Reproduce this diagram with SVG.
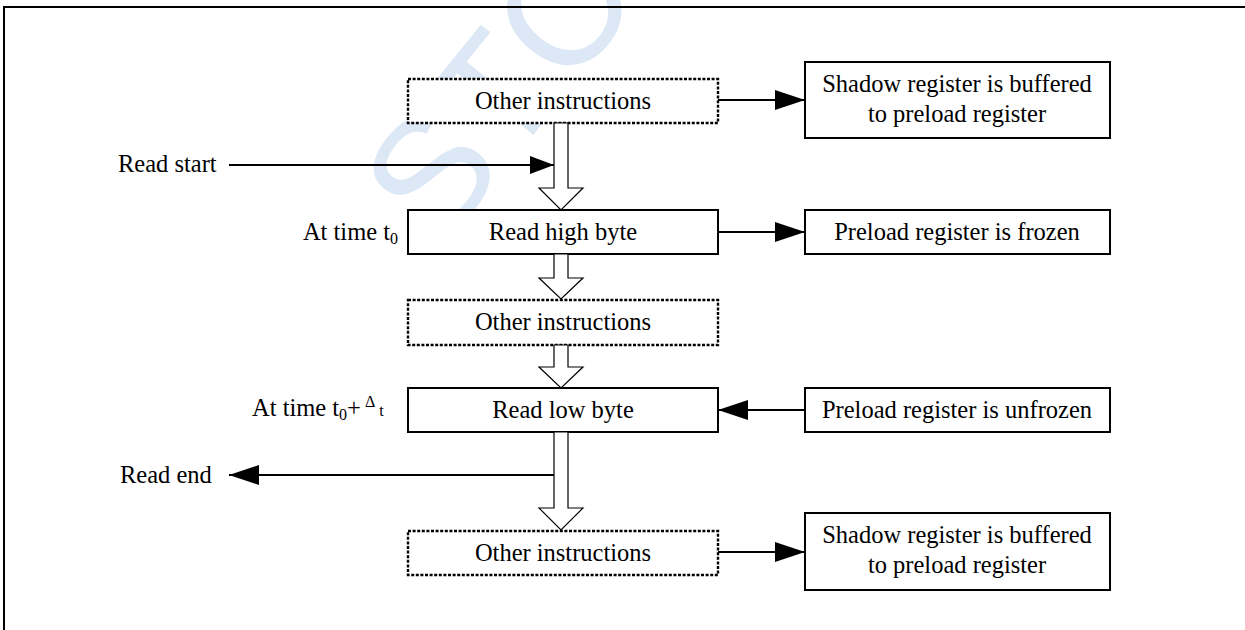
<svg xmlns="http://www.w3.org/2000/svg" width="1245" height="630" viewBox="0 0 1245 630">
  <style>
    .t { font-family: "Liberation Serif", "Times New Roman", "DejaVu Serif", serif; font-size: 24.5px; fill: #000; }
    .c { text-anchor: middle; }
    .box { fill: #fff; stroke: #000; stroke-width: 2; }
    .dash { fill: #fff; stroke: #000; stroke-width: 2.4; stroke-dasharray: 3 1.6; }
    .line { stroke: #000; stroke-width: 2; fill: none; }
    .hollow { fill: #fff; stroke: #000; stroke-width: 1.2; stroke-linejoin: miter; }
    .wm { font-family: "Liberation Sans", Arial, sans-serif; font-size: 160px; fill: #dce8f5; }
  </style>
  <defs>
    <marker id="head" markerUnits="userSpaceOnUse" markerWidth="30" markerHeight="20" refX="30" refY="10" orient="auto">
      <path d="M0,0 L30,10 L0,20 z" fill="#000"/>
    </marker>
    <marker id="headShort" markerUnits="userSpaceOnUse" markerWidth="24" markerHeight="18" refX="24" refY="9" orient="auto">
      <path d="M0,0 L24,9 L0,18 z" fill="#000"/>
    </marker>
  </defs>

  <!-- background watermark -->
  <text class="wm" transform="translate(440,250) rotate(-51)">STC</text>

  <!-- figure frame -->
  <path class="line" d="M4,630 V7 H1245"/>

  <!-- left-hand labels -->
  <g id="label-read-start"><text class="t" x="118" y="172">Read start</text></g>
  <g id="label-read-end"><text class="t" x="120" y="483">Read end</text></g>
  <g id="label-t0"><text class="t" x="398" y="240" text-anchor="end">At time t<tspan font-size="16" dy="4">0</tspan></text></g>
  <g id="label-t0-dt"><text class="t" x="252" y="416">At time t<tspan font-size="16" dy="4">0</tspan><tspan dy="-4">+</tspan><tspan font-size="16" dx="4" dy="-9">Δ</tspan><tspan font-size="16" dx="4" dy="9">t</tspan></text></g>

  <!-- main column -->
  <g id="other-1">
    <rect class="dash" x="408" y="79" width="310" height="44"/>
    <text class="t c" x="563" y="109">Other instructions</text>
  </g>
  <g id="read-high">
    <rect class="box" x="408" y="210" width="310" height="44"/>
    <text class="t c" x="563" y="240">Read high byte</text>
  </g>
  <g id="other-2">
    <rect class="dash" x="408" y="300" width="310" height="45"/>
    <text class="t c" x="563" y="330">Other instructions</text>
  </g>
  <g id="read-low">
    <rect class="box" x="408" y="388" width="310" height="44"/>
    <text class="t c" x="563" y="418">Read low byte</text>
  </g>
  <g id="other-3">
    <rect class="dash" x="408" y="531" width="310" height="44"/>
    <text class="t c" x="563" y="561">Other instructions</text>
  </g>

  <!-- right column -->
  <g id="shadow-1">
    <rect class="box" x="805" y="62" width="305" height="76"/>
    <text class="t c" x="957" y="92">Shadow register is buffered</text>
    <text class="t c" x="957" y="122">to preload register</text>
  </g>
  <g id="frozen">
    <rect class="box" x="805" y="210" width="305" height="44"/>
    <text class="t c" x="957" y="240">Preload register is frozen</text>
  </g>
  <g id="unfrozen">
    <rect class="box" x="805" y="388" width="305" height="44"/>
    <text class="t c" x="957" y="418">Preload register is unfrozen</text>
  </g>
  <g id="shadow-2">
    <rect class="box" x="805" y="513" width="305" height="77"/>
    <text class="t c" x="957" y="543">Shadow register is buffered</text>
    <text class="t c" x="957" y="573">to preload register</text>
  </g>

  <!-- connectors -->
  <g id="connectors">
    <line class="line" x1="229" y1="165" x2="554" y2="165" marker-end="url(#headShort)"/>
    <line class="line" x1="718" y1="100" x2="805" y2="100" marker-end="url(#head)"/>
    <line class="line" x1="718" y1="232" x2="805" y2="232" marker-end="url(#head)"/>
    <line class="line" x1="805" y1="410" x2="718" y2="410" marker-end="url(#head)"/>
    <line class="line" x1="554" y1="475" x2="229" y2="475" marker-end="url(#head)"/>
    <line class="line" x1="718" y1="552" x2="805" y2="552" marker-end="url(#head)"/>

    <!-- hollow flow arrows down the main column -->
    <polygon class="hollow" points="554,123 568,123 568,188 583,188 561,210 539,188 554,188"/>
    <polygon class="hollow" points="554,254 568,254 568,278 583,278 561,299 539,278 554,278"/>
    <polygon class="hollow" points="554,345 568,345 568,367 583,367 561,388 539,367 554,367"/>
    <polygon class="hollow" points="554,432 568,432 568,508 583,508 561,530 539,508 554,508"/>
  </g>
</svg>
